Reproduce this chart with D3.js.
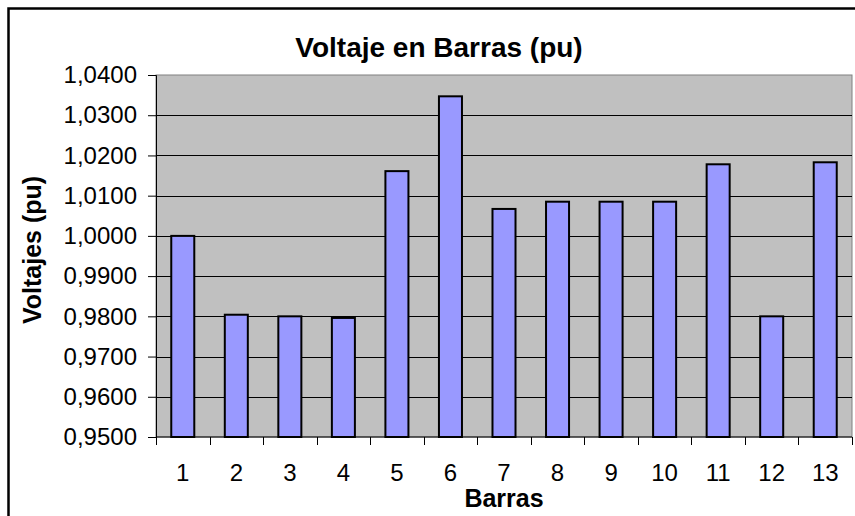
<!DOCTYPE html>
<html>
<head>
<meta charset="utf-8">
<script src="https://cdn.jsdelivr.net/npm/d3@7"></script>
<style>
  body { margin: 0; background: #fff; }
  svg { display: block; font-family: "Liberation Sans", Arial, sans-serif; }
</style>
</head>
<body>
<div id="chart"></div>
<script>
// data
var barras = ["1", "2", "3", "4", "5", "6", "7", "8", "9", "10", "11", "12", "13"];
var voltajes = [1.0000, 0.9804, 0.9800, 0.9796, 1.0161, 1.0347, 1.0067, 1.0085, 1.0085, 1.0085, 1.0178, 0.9800, 1.0183];
var yTicks = [0.95, 0.96, 0.97, 0.98, 0.99, 1.00, 1.01, 1.02, 1.03, 1.04];

var svgWidth = 855;
var svgHeight = 516;

var margin = { top: 75, right: 3, bottom: 79, left: 156 };
var width = svgWidth - margin.left - margin.right;
var height = svgHeight - margin.top - margin.bottom;

var svg = d3.select("#chart")
  .append("svg")
  .attr("width", svgWidth)
  .attr("height", svgHeight);

// outer chart border (runs off the right and bottom)
svg.append("path")
  .attr("d", "M8.5,530 V8.5 H870")
  .attr("fill", "none")
  .attr("stroke", "#000")
  .attr("stroke-width", 2.5);

var chartGroup = svg.append("g")
  .attr("transform", `translate(${margin.left}, ${margin.top})`);

var xScale = d3.scaleBand()
  .domain(barras)
  .range([0, width])
  .paddingInner(0.57)
  .paddingOuter(0.285);

var yScale = d3.scaleLinear()
  .domain([0.95, 1.04])
  .range([height, 0]);

// plot background
chartGroup.append("rect")
  .attr("width", width)
  .attr("height", height)
  .attr("fill", "#c0c0c0")
  .attr("stroke", "#808080")
  .attr("stroke-width", 1);

// gridlines
chartGroup.selectAll(".grid")
  .data(yTicks.slice(1, -1))
  .enter()
  .append("line")
  .attr("x1", 0)
  .attr("x2", width)
  .attr("y1", d => Math.round(yScale(d)) + 0.5)
  .attr("y2", d => Math.round(yScale(d)) + 0.5)
  .attr("stroke", "#000")
  .attr("stroke-width", 1);

// bars
chartGroup.selectAll(".bar")
  .data(voltajes)
  .enter()
  .append("rect")
  .attr("x", (d, i) => xScale(barras[i]))
  .attr("y", d => yScale(d))
  .attr("width", xScale.bandwidth())
  .attr("height", d => height - yScale(d))
  .attr("fill", "#9999ff")
  .attr("stroke", "#000")
  .attr("stroke-width", 2);

// y axis
var leftAxis = d3.axisLeft(yScale)
  .tickValues(yTicks)
  .tickSize(8)
  .tickPadding(11)
  .tickFormat(d => d3.format(".4f")(d).replace(".", ","));

var yAxis = chartGroup.append("g").call(leftAxis);
yAxis.select(".domain").attr("stroke", "#000");
yAxis.selectAll("text")
  .attr("font-size", 24)
  .attr("fill", "#000")
  .attr("font-family", "Liberation Sans, Arial, sans-serif");

// x axis - ticks sit between the categories
var step = xScale.step();
var xAxis = chartGroup.append("g")
  .attr("transform", `translate(0, ${height})`);

xAxis.append("line")
  .attr("x1", 0)
  .attr("x2", width)
  .attr("stroke", "#000");

xAxis.selectAll(".tk")
  .data(d3.range(barras.length + 1))
  .enter()
  .append("line")
  .attr("x1", i => Math.round(i * step) + 0.5)
  .attr("x2", i => Math.round(i * step) + 0.5)
  .attr("y1", 0)
  .attr("y2", 8)
  .attr("stroke", "#000");

xAxis.selectAll(".lbl")
  .data(barras)
  .enter()
  .append("text")
  .attr("x", d => xScale(d) + xScale.bandwidth() / 2)
  .attr("y", 44)
  .attr("text-anchor", "middle")
  .attr("font-size", 24)
  .text(d => d);

// titles
svg.append("text")
  .attr("x", 439)
  .attr("y", 57)
  .attr("text-anchor", "middle")
  .attr("font-size", 28)
  .attr("font-weight", "bold")
  .text("Voltaje en Barras (pu)");

svg.append("text")
  .attr("transform", "rotate(-90)")
  .attr("x", -250)
  .attr("y", 41)
  .attr("text-anchor", "middle")
  .attr("font-size", 25)
  .attr("font-weight", "bold")
  .text("Voltajes (pu)");

svg.append("text")
  .attr("x", margin.left + width / 2)
  .attr("y", 507)
  .attr("text-anchor", "middle")
  .attr("font-size", 25)
  .attr("font-weight", "bold")
  .text("Barras");
</script>
</body>
</html>
